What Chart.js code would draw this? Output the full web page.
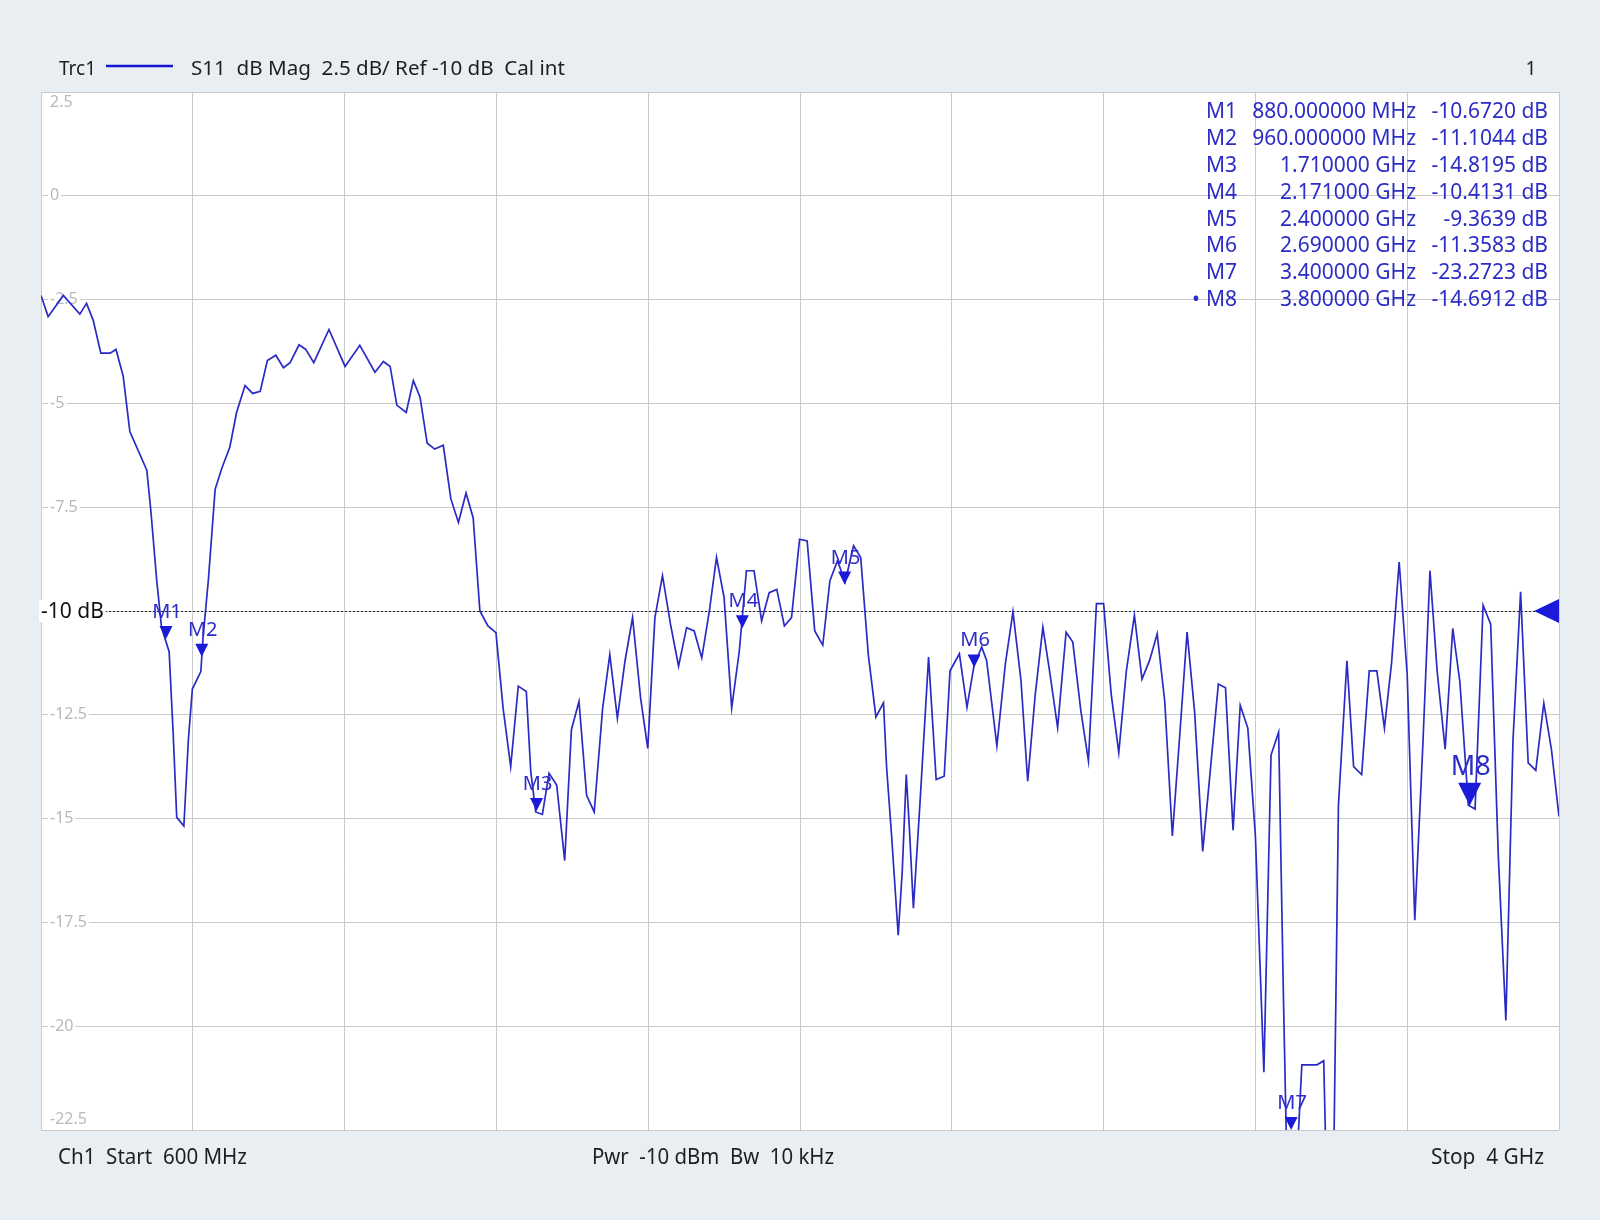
<!DOCTYPE html>
<html lang="en">
<head>
<meta charset="UTF-8">
<title>S11 dB Mag</title>
<style>
  html, body { margin: 0; padding: 0; background: #e9eef3; }
  #wrap { width: 1600px; height: 1220px; }
</style>
</head>
<body>
<div id="wrap"><canvas id="vnaChart" width="1600" height="1220"></canvas></div>

<script src="https://cdn.jsdelivr.net/npm/chart.js@4.4.1/dist/chart.umd.min.js"></script>
<script>
// Trace Trc1, S11 dB Mag
const freqMHz = [
  600, 616, 650, 687, 702, 717, 734, 755, 768, 784, 799, 837, 846, 859, 870, 887, 896, 904, 920, 930,
  939, 958, 963, 975, 990, 1005, 1023, 1038, 1057, 1074, 1091, 1107, 1126, 1143, 1158, 1178, 1193, 1211, 1245, 1281,
  1314, 1348, 1367, 1382, 1397, 1418, 1434, 1449, 1465, 1482, 1501, 1518, 1535, 1552, 1568, 1583, 1601, 1619, 1635, 1652,
  1669, 1687, 1697, 1708, 1723, 1738, 1755, 1773, 1788, 1805, 1822, 1839, 1858, 1874, 1891, 1908, 1925, 1943, 1959, 1975,
  1992, 2010, 2028, 2046, 2063, 2080, 2097, 2113, 2130, 2147, 2164, 2180, 2197, 2214, 2231, 2248, 2265, 2281, 2299, 2316,
  2333, 2351, 2367, 2384, 2401, 2420, 2436, 2453, 2470, 2487, 2494, 2505, 2520, 2529, 2538, 2545, 2554, 2569, 2588, 2605,
  2623, 2636, 2657, 2674, 2690, 2707, 2718, 2741, 2760, 2777, 2795, 2810, 2827, 2844, 2860, 2877, 2896, 2911, 2929, 2946,
  2964, 2980, 2997, 3014, 3031, 3049, 3066, 3083, 3100, 3117, 3134, 3151, 3167, 3184, 3202, 3219, 3237, 3253, 3270, 3286,
  3303, 3320, 3339, 3355, 3372, 3383, 3391, 3400, 3412, 3424, 3458, 3473, 3479, 3495, 3506, 3525, 3540, 3558, 3575, 3592,
  3609, 3625, 3642, 3660, 3677, 3695, 3711, 3727, 3745, 3762, 3778, 3797, 3812, 3830, 3847, 3864, 3881, 3897, 3914, 3931,
  3948, 3966, 3983, 4000
];
const s11dB = [
  -2.40, -2.91, -2.40, -2.85, -2.59, -3.00, -3.79, -3.79, -3.70, -4.34, -5.68, -6.61, -7.58, -9.24, -10.40, -10.98, -12.94, -14.97, -15.18, -13.12,
  -11.88, -11.46, -10.63, -9.24, -7.07, -6.56, -6.05, -5.22, -4.57, -4.76, -4.71, -3.97, -3.84, -4.14, -4.02, -3.59, -3.70, -4.02, -3.22, -4.11,
  -3.60, -4.25, -3.99, -4.11, -5.04, -5.22, -4.45, -4.85, -5.96, -6.10, -6.01, -7.30, -7.87, -7.16, -7.76, -10.00, -10.36, -10.52, -12.34, -13.75,
  -11.81, -11.94, -13.87, -14.84, -14.90, -13.91, -14.19, -16.01, -12.86, -12.18, -14.44, -14.84, -12.34, -11.05, -12.58, -11.21, -10.16, -12.10, -13.31, -10.16,
  -9.15, -10.32, -11.33, -10.40, -10.48, -11.13, -10.00, -8.71, -9.68, -12.34, -10.97, -9.03, -9.03, -10.24, -9.56, -9.48, -10.36, -10.16, -8.27, -8.31,
  -10.48, -10.82, -9.27, -8.79, -9.30, -8.43, -8.71, -11.05, -12.55, -12.21, -13.77, -15.39, -17.81, -16.27, -13.94, -15.23, -17.16, -14.58, -11.11, -14.06,
  -13.98, -11.44, -11.03, -12.32, -11.30, -10.87, -11.19, -13.25, -11.27, -10.02, -11.68, -14.10, -12.00, -10.39, -11.52, -12.81, -10.51, -10.75, -12.40, -13.61,
  -9.82, -9.82, -12.00, -13.41, -11.44, -10.10, -11.64, -11.19, -10.55, -12.18, -15.42, -12.92, -10.51, -12.45, -15.79, -13.84, -11.76, -11.85, -15.28, -12.27,
  -12.82, -15.42, -21.11, -13.47, -12.92, -19.40, -23.60, -23.27, -23.50, -20.93, -20.93, -20.83, -23.60, -23.60, -14.68, -11.20, -13.75, -13.94, -11.44, -11.44,
  -12.82, -11.25, -8.82, -11.53, -17.45, -13.24, -9.03, -11.44, -13.33, -10.42, -11.71, -14.68, -14.77, -9.86, -10.32, -15.88, -19.86, -13.10, -9.54, -13.66,
  -13.84, -12.22, -13.33, -14.95
];

// grid: 10 divisions each way
const xGridMHz = [600, 940, 1280, 1620, 1960, 2300, 2640, 2980, 3320, 3660, 4000];
const yGridDB = [2.5, 0, -2.5, -5, -7.5, -10, -12.5, -15, -17.5, -20, -22.5];
const yTickLabels = ['2.5', '0', '-2.5', '-5', '-7.5', '-10 dB', '-12.5', '-15', '-17.5', '-20', '-22.5'];
const refLevel = -10;

// markers
const markerNames = ['M1', 'M2', 'M3', 'M4', 'M5', 'M6', 'M7', 'M8'];
const markerFreqMHz = [880, 960, 1710, 2171, 2400, 2690, 3400, 3800];
const markerDB = [-10.6720, -11.1044, -14.8195, -10.4131, -9.3639, -11.3583, -23.2723, -14.6912];
const markerFreqText = ['880.000000 MHz', '960.000000 MHz', '1.710000 GHz', '2.171000 GHz',
                        '2.400000 GHz', '2.690000 GHz', '3.400000 GHz', '3.800000 GHz'];
const markerDBText = ['-10.6720 dB', '-11.1044 dB', '-14.8195 dB', '-10.4131 dB',
                      '-9.3639 dB', '-11.3583 dB', '-23.2723 dB', '-14.6912 dB'];
const activeMarker = 7;

const headerTrace = 'Trc1';
const headerInfo = 'S11  dB Mag  2.5 dB/ Ref -10 dB  Cal int';
const headerWin = '1';
const footerLeft = 'Ch1  Start  600 MHz';
const footerMid = 'Pwr  -10 dBm  Bw  10 kHz';
const footerRight = 'Stop  4 GHz';

const traceBlue = '#2a2ac4';
const markBlue = '#1a1ad8';
const textBlue = '#2c2cc6';
const FONT = '"Noto Sans", "Open Sans", sans-serif';

// squeeze / stretch text horizontally into a given width
function fitText(ctx, text, x, y, w, align) {
    const m = ctx.measureText(text).width;
    const k = w / m;
    ctx.save();
    let x0 = x;
    if (align === 'right') x0 = x - w;
    ctx.translate(x0, y);
    ctx.scale(k, 1);
    ctx.textAlign = 'left';
    ctx.fillText(text, 0, 0);
    ctx.restore();
}

const vnaOverlay = {
    id: 'vnaOverlay',
    beforeDraw(chart) {
        const { ctx, chartArea: a } = chart;
        ctx.save();
        ctx.fillStyle = '#e9eef3';
        ctx.fillRect(0, 0, chart.width, chart.height);
        ctx.fillStyle = '#ffffff';
        ctx.fillRect(a.left, a.top, a.right - a.left, a.bottom - a.top);
        ctx.restore();
    },
    beforeDatasetsDraw(chart) {
        const { ctx, chartArea: a } = chart;
        const ys = chart.scales.y;
        ctx.save();
        // reference line
        const ry = Math.round(ys.getPixelForValue(refLevel)) + 0.5;
        ctx.setLineDash([2, 2]);
        ctx.strokeStyle = '#222';
        ctx.lineWidth = 1;
        ctx.beginPath();
        ctx.moveTo(a.left, ry);
        ctx.lineTo(a.right, ry);
        ctx.stroke();
        ctx.setLineDash([]);

        // y labels sit inside the grid
        ctx.textBaseline = 'middle';
        ys.ticks.forEach((t) => {
            const idx = yGridDB.indexOf(t.value);
            if (idx < 0) return;
            const label = yTickLabels[idx];
            let py = ys.getPixelForValue(t.value);
            if (t.value === refLevel) {
                ctx.font = '21px ' + FONT;
                const w = ctx.measureText(label).width;
                ctx.fillStyle = '#fff';
                ctx.fillRect(a.left - 2, py - 11, w + 4, 22);
                ctx.fillStyle = '#111';
                ctx.fillText(label, a.left, py + 1);
                return;
            }
            py = Math.min(Math.max(py, a.top + 10), a.bottom - 11);
            ctx.font = '16px ' + FONT;
            const w = ctx.measureText(label).width;
            ctx.fillStyle = '#fff';
            ctx.fillRect(a.left + 7, py - 8, w + 4, 16);
            ctx.fillStyle = '#b9b9b9';
            ctx.fillText(label, a.left + 9, py);
        });
        ctx.restore();
    },
    afterDatasetsDraw(chart) {
        const { ctx, chartArea: a } = chart;
        const xs = chart.scales.x, ys = chart.scales.y;
        ctx.save();

        // markers on the trace
        markerNames.forEach((name, i) => {
            const px = xs.getPixelForValue(markerFreqMHz[i]);
            const py = Math.min(ys.getPixelForValue(markerDB[i]), a.bottom);
            const s = i === activeMarker ? 23 : 13;
            ctx.fillStyle = markBlue;
            ctx.beginPath();
            ctx.moveTo(px - s / 2, py - s);
            ctx.lineTo(px + s / 2, py - s);
            ctx.lineTo(px, py);
            ctx.closePath();
            ctx.fill();
            ctx.font = (i === activeMarker ? '27px ' : '20px ') + FONT;
            ctx.textAlign = 'center';
            ctx.textBaseline = 'alphabetic';
            ctx.fillStyle = textBlue;
            ctx.fillText(name, px + 1, py - s - 8);
        });

        // reference level arrow at right edge
        const ry = ys.getPixelForValue(refLevel);
        ctx.fillStyle = markBlue;
        ctx.beginPath();
        ctx.moveTo(a.right, ry - 12);
        ctx.lineTo(a.right, ry + 12);
        ctx.lineTo(a.right - 25, ry);
        ctx.closePath();
        ctx.fill();

        // marker table
        ctx.font = '21px ' + FONT;
        ctx.textBaseline = 'middle';
        ctx.fillStyle = textBlue;
        markerNames.forEach((name, i) => {
            const y = 112 + i * 26.9;
            ctx.textAlign = 'left';
            ctx.fillText(name, 1206, y);
            if (i === activeMarker) ctx.fillText('\u2022', 1192, y);
            ctx.textAlign = 'right';
            ctx.fillText(markerFreqText[i], 1416, y);
            ctx.fillText(markerDBText[i], 1548, y);
        });

        // header
        ctx.fillStyle = '#1e1e1e';
        ctx.textAlign = 'left';
        ctx.font = '19px ' + FONT;
        ctx.fillText(headerTrace, 59, 70);
        fitText(ctx, headerInfo, 191, 70, 374, 'left');
        ctx.textAlign = 'center';
        ctx.fillText(headerWin, 1531, 70);
        ctx.strokeStyle = '#1414d2';
        ctx.lineWidth = 2.5;
        ctx.beginPath();
        ctx.moveTo(106, 66);
        ctx.lineTo(173, 66);
        ctx.stroke();

        // footer
        ctx.fillStyle = '#1e1e1e';
        ctx.font = '22px ' + FONT;
        fitText(ctx, footerLeft, 58, 1158, 189, 'left');
        fitText(ctx, footerMid, 592, 1158, 242, 'left');
        fitText(ctx, footerRight, 1544, 1158, 113, 'right');
        ctx.restore();
    }
};

const ctx = document.getElementById('vnaChart').getContext('2d');
const vnaChart = new Chart(ctx, {
    type: 'line',
    data: {
        datasets: [{
            label: headerTrace,
            data: freqMHz.map((f, i) => ({ x: f, y: s11dB[i] })),
            borderColor: traceBlue,
            borderWidth: 1.7,
            pointRadius: 0,
            tension: 0,
            fill: false
        }]
    },
    options: {
        responsive: false,
        animation: false,
        layout: { padding: { left: 41, right: 41, top: 92, bottom: 90 } },
        plugins: {
            legend: { display: false },
            tooltip: { enabled: false }
        },
        scales: {
            x: {
                type: 'linear',
                min: 600,
                max: 4000,
                afterBuildTicks: (s) => { s.ticks = xGridMHz.map(v => ({ value: v })); },
                ticks: { display: false },
                grid: { color: '#cacaca', lineWidth: 1, drawTicks: false },
                border: { display: false }
            },
            y: {
                type: 'linear',
                min: -22.5,
                max: 2.5,
                afterBuildTicks: (s) => { s.ticks = yGridDB.map(v => ({ value: v })); },
                ticks: { display: false },
                grid: { color: '#cacaca', lineWidth: 1, drawTicks: false },
                border: { display: false }
            }
        }
    },
    plugins: [vnaOverlay]
});
</script>
</body>
</html>
